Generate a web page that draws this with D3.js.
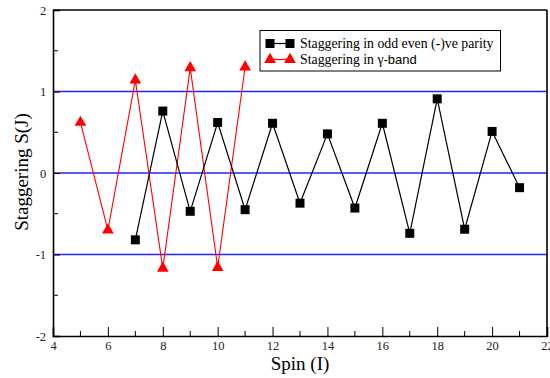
<!DOCTYPE html>
<html>
<head>
<meta charset="utf-8">
<script src="https://cdn.jsdelivr.net/npm/d3@7"></script>
<style>
  html, body { margin: 0; padding: 0; background: #fff; }
  svg { display: block; }
</style>
</head>
<body>
<svg id="chart" width="550" height="378"></svg>
<script>
// Staggering S(J) for the odd-even negative-parity band
const spinOdd = [7, 8, 9, 10, 11, 12, 13, 14, 15, 16, 17, 18, 19, 20, 21];
const stagOdd = [-0.82, 0.76, -0.47, 0.62, -0.45, 0.61, -0.37, 0.48, -0.43, 0.61, -0.74, 0.91, -0.69, 0.51, -0.18];

// Staggering S(J) for the gamma band
const spinGamma = [5, 6, 7, 8, 9, 10, 11];
const stagGamma = [0.62, -0.70, 1.14, -1.17, 1.29, -1.16, 1.30];

// Axis ticks and reference levels
const xTicks = [4, 6, 8, 10, 12, 14, 16, 18, 20, 22];
const xMinor = [5, 7, 9, 11, 13, 15, 17, 19, 21];
const yTicks = [-2, -1, 0, 1, 2];
const yMinor = [-1.5, -0.5, 0.5, 1.5];
const refLevels = [1, 0, -1];

const legendLabels = ["Staggering in odd even (-)ve parity", "Staggering in "];

const SERIF = "'Liberation Serif', 'Times New Roman', serif";
const SANS = "'Liberation Sans', Arial, sans-serif";

const svg = d3.select("#chart");
const plotL = 53, plotR = 547, plotT = 10, plotB = 336;

const x = d3.scaleLinear().domain([4, 22]).range([plotL, plotR]);
const y = d3.scaleLinear().domain([-2, 2]).range([plotB, plotT]);

// Horizontal reference lines
svg.append("g").selectAll("line").data(refLevels).enter().append("line")
  .attr("x1", plotL).attr("x2", plotR)
  .attr("y1", d => y(d)).attr("y2", d => y(d))
  .attr("stroke", "#2626ee").attr("stroke-width", 1.5);

// Bottom axis with inward ticks
const xAxis = svg.append("g").attr("transform", `translate(0,${plotB})`);
xAxis.call(d3.axisBottom(x).tickValues(xTicks).tickSize(-9).tickPadding(5).tickFormat(d => String(d)));
xAxis.append("g").selectAll("line").data(xMinor).enter().append("line")
  .attr("x1", d => x(d)).attr("x2", d => x(d)).attr("y1", 0).attr("y2", -5)
  .attr("stroke", "#000");

// Left axis with inward ticks
const yAxis = svg.append("g").attr("transform", `translate(${plotL},0)`);
yAxis.call(d3.axisLeft(y).tickValues(yTicks).tickSize(-7).tickPadding(10).tickFormat(d => String(d)));
yAxis.append("g").selectAll("line").data(yMinor).enter().append("line")
  .attr("y1", d => y(d)).attr("y2", d => y(d)).attr("x1", 0).attr("x2", 5)
  .attr("stroke", "#000");

[xAxis, yAxis].forEach(g => {
  g.select(".domain").attr("stroke", "#000").attr("stroke-width", 1.6);
  g.selectAll(".tick line").attr("stroke", "#000");
  g.selectAll("text").style("font-family", SERIF).attr("font-size", 12.5).attr("fill", "#222");
});
yAxis.selectAll(".tick text").attr("dx", "0.25em");

// Top and right frame
svg.append("line").attr("x1", plotL).attr("x2", plotR).attr("y1", plotT).attr("y2", plotT)
  .attr("stroke", "#000").attr("stroke-width", 1.6);
svg.append("line").attr("x1", plotR).attr("x2", plotR).attr("y1", plotT).attr("y2", plotB)
  .attr("stroke", "#000").attr("stroke-width", 1.6);

// Series lines
const lineOdd = d3.line().x((d, i) => x(spinOdd[i])).y(d => y(d));
const lineGamma = d3.line().x((d, i) => x(spinGamma[i])).y(d => y(d));

svg.append("path").attr("d", lineGamma(stagGamma))
  .attr("fill", "none").attr("stroke", "#ff0000").attr("stroke-width", 1.1);
svg.append("path").attr("d", lineOdd(stagOdd))
  .attr("fill", "none").attr("stroke", "#000").attr("stroke-width", 1.2);

// Markers
const sq = d3.symbol().type(d3.symbolSquare).size(81);
const tri = d3.symbol().type(d3.symbolTriangle).size(60);

svg.append("g").selectAll("path").data(stagOdd).enter().append("path")
  .attr("d", sq)
  .attr("transform", (d, i) => `translate(${x(spinOdd[i])},${y(d)})`)
  .attr("fill", "#000");
svg.append("g").selectAll("path").data(stagGamma).enter().append("path")
  .attr("d", tri)
  .attr("transform", (d, i) => `translate(${x(spinGamma[i])},${y(d)})`)
  .attr("fill", "#ff0000");

// Axis titles
svg.append("text").attr("x", 300).attr("y", 370).attr("text-anchor", "middle")
  .style("font-family", SERIF).attr("font-size", 19).text("Spin (I)");
svg.append("text").attr("transform", "translate(28,172) rotate(-90)").attr("text-anchor", "middle")
  .style("font-family", SERIF).attr("font-size", 19).text("Staggering S(J)");

// Legend
const lg = svg.append("g");
lg.append("rect").attr("x", 260).attr("y", 30.5).attr("width", 240.5).attr("height", 40.5)
  .attr("fill", "#fff").attr("stroke", "#000").attr("stroke-width", 1);
const rows = [
  { y: 43.5, color: "#000", sym: sq },
  { y: 59.5, color: "#ff0000", sym: tri }
];
rows.forEach((r, i) => {
  lg.append("line").attr("x1", 270).attr("x2", 290).attr("y1", r.y).attr("y2", r.y)
    .attr("stroke", r.color).attr("stroke-width", 1.2);
  [270, 290].forEach(px => lg.append("path").attr("d", r.sym)
    .attr("transform", `translate(${px},${r.y})`).attr("fill", r.color));
  const t = lg.append("text").attr("x", 300).attr("y", r.y + 4.5)
    .style("font-family", SERIF).attr("font-size", 13.8)
    .text(legendLabels[i]);
  if (i === 1) {
    t.append("tspan").text("γ");
    t.append("tspan").style("font-family", SANS).attr("font-size", 13).text("-band");
  }
});
</script>
</body>
</html>
